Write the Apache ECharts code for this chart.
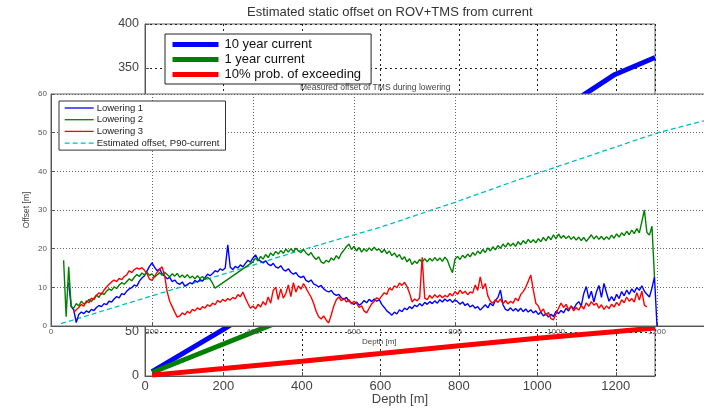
<!DOCTYPE html>
<html><head><meta charset="utf-8">
<script src="https://cdn.jsdelivr.net/npm/echarts@6/dist/echarts.min.js"></script>
<style>html,body{margin:0;padding:0;background:#fff}#c{width:704px;height:408px}</style>
</head><body><div id="c"></div>
<script>
// Background chart: Estimated static offset on ROV+TMS from current
const bgDepth = [18, 200, 400, 600, 800, 1000, 1195, 1300];
const bg10yr  = [5, 53, 110, 168, 226, 285, 342, 362];
const bg1yr   = [4, 36.4, 72, 107.5, 143, 178.6, 213.5, 232];
const bgP10   = [1, 8.5, 16.8, 25.5, 34.5, 43, 50.3, 54.5];
const bgXTicks = [0, 200, 400, 600, 800, 1000, 1200];

// Inset chart: Measured offset of TMS during lowering (depth start, 5 m step)
const stepDepth = 5;
const low1Start = 35;
const low1 = [
 11.2,5.0,4.2,0.9,3.0,3.6,3.2,3.9,3.5,4.3,
 4.0,4.8,5.3,5.0,5.8,5.5,6.4,6.2,7.0,7.6,
 7.3,8.4,8.1,9.0,9.6,9.9,10.6,10.3,11.6,12.4,
 13.0,14.2,15.4,16.3,15.2,14.3,14.8,13.5,12.9,12.2,
 12.6,11.5,11.9,11.1,10.8,11.4,10.3,10.7,11.2,10.9,
 11.8,11.3,12.0,11.6,12.5,13.4,13.0,13.6,14.3,14.0,
 14.8,14.4,15.0,21.0,15.2,14.6,15.4,15.0,15.8,15.3,
 16.2,17.0,16.5,17.6,18.4,17.2,16.8,16.3,16.9,16.0,
 15.6,16.2,15.3,15.0,15.6,14.6,14.2,14.8,13.9,13.4,
 13.8,12.9,12.5,12.9,11.8,11.4,11.9,10.9,10.6,10.1,
 10.5,9.6,9.1,8.8,9.2,8.3,7.9,8.2,7.3,6.9,
 7.4,6.4,6.0,5.6,6.2,5.4,5.8,6.6,6.0,6.9,
 6.3,7.0,6.4,6.8,5.6,4.8,3.9,3.4,2.8,3.6,
 3.1,4.2,3.7,4.6,4.2,5.0,4.5,5.4,5.0,5.8,
 5.2,6.1,5.6,6.3,5.8,6.5,5.9,6.8,6.2,7.0,
 6.4,6.9,6.1,6.8,6.3,5.6,6.2,5.3,5.8,4.9,
 5.4,4.6,5.0,4.1,4.8,5.5,4.7,5.9,5.2,6.6,
 7.4,9.3,5.5,4.3,4.0,4.7,3.9,4.5,3.8,4.6,
 3.7,4.4,3.6,4.2,3.4,3.9,3.0,3.6,2.6,3.2,
 2.3,3.0,2.5,3.8,3.2,4.0,3.4,4.6,3.9,5.2,
 4.4,5.6,6.3,5.2,8.4,10.2,7.1,9.0,6.2,8.8,
 10.5,7.4,11.0,8.6,6.4,7.6,6.5,8.2,7.1,8.9,
 7.8,9.3,8.2,9.6,8.7,10.0,9.2,10.4,9.0,8.2,
 7.5,9.8,12.7,0
];
const low2Start = 25;
const low2 = [
 17.0,2.4,15.3,5.0,4.6,5.8,5.2,6.4,5.7,6.0,
 6.9,6.3,7.2,8.0,7.4,8.6,8.1,9.0,9.6,9.2,
 10.1,9.7,10.6,11.2,10.8,11.5,12.2,11.7,12.6,13.3,
 12.8,13.7,13.2,13.9,13.1,13.5,12.6,13.2,13.8,13.1,
 13.9,13.3,12.7,13.5,12.9,13.6,12.6,13.2,12.5,13.3,
 12.4,12.9,12.2,13.0,12.3,12.8,12.0,12.6,12.1,11.0,
 9.8,null,null,null,null,null,null,null,null,null,
 null,null,null,null,null,16.6,17.6,16.8,18.0,17.3,
 18.5,17.7,18.9,18.2,19.3,18.6,19.5,18.8,19.9,19.1,
 20.0,19.2,20.1,19.4,19.0,19.8,18.9,18.3,19.0,17.9,
 17.2,17.9,16.6,16.2,17.0,16.5,17.6,17.0,18.2,17.4,
 18.8,19.6,20.5,21.2,19.8,20.6,19.4,20.3,19.1,20.0,
 19.3,20.2,19.5,20.4,19.6,19.9,19.0,19.8,18.7,19.4,
 18.2,18.9,17.8,18.5,17.2,17.9,16.6,17.4,15.9,16.8,
 16.2,17.2,16.5,17.4,16.6,17.5,16.8,17.7,16.9,17.6,
 16.7,17.8,17.0,15.2,13.8,17.3,18.0,17.2,18.3,17.6,
 18.6,17.9,19.0,18.3,19.4,18.7,19.8,19.0,20.2,19.4,
 20.5,19.7,20.8,20.1,21.2,20.4,21.5,20.7,21.4,20.6,
 21.8,21.0,22.1,21.3,22.4,21.6,22.3,21.5,22.6,21.8,
 22.9,22.0,23.2,22.3,23.6,22.5,23.8,22.7,23.4,22.6,
 23.3,22.4,23.1,22.2,23.0,22.1,22.9,21.9,22.7,23.6,
 22.5,23.3,22.4,23.2,22.3,23.1,22.4,23.5,22.7,23.8,
 23.0,24.1,23.4,24.5,23.6,24.8,23.9,25.2,24.1,27.0,
 30.0,24.2,23.5,25.8,12.7
];
const low3Start = 45;
const low3 = [
 3.5,4.2,4.8,5.6,5.1,6.5,6.0,7.2,6.8,7.9,
 8.6,8.2,9.3,10.1,10.8,11.4,11.9,11.5,12.3,12.0,
 12.8,13.2,14.3,13.8,14.6,15.0,14.7,15.1,14.4,13.6,
 12.1,11.8,12.8,13.9,14.6,15.3,13.0,8.9,6.4,5.0,
 3.6,2.3,2.6,3.4,2.9,3.8,3.3,4.3,3.9,4.7,
 4.2,5.0,4.6,5.5,5.1,5.9,5.5,6.6,6.1,6.9,
 6.4,7.1,6.7,7.4,7.0,8.1,7.6,8.8,7.2,5.8,
 4.6,5.2,4.4,5.6,4.9,6.3,5.4,7.5,5.9,9.2,
 10.0,6.8,9.6,7.2,8.4,10.6,7.6,11.2,8.8,10.4,
 9.5,11.0,9.8,8.6,7.5,5.9,3.8,2.4,1.8,2.6,
 1.5,0.8,2.9,5.2,6.8,7.5,6.5,7.2,6.2,6.8,
 5.7,6.4,5.9,4.8,5.2,3.9,3.4,4.6,5.7,6.4,
 7.3,6.9,7.8,8.6,8.2,9.8,9.3,10.4,9.9,11.1,
 10.5,11.3,10.2,8.5,6.2,7.0,6.5,7.3,17.8,7.2,
 6.8,7.9,7.2,8.1,7.4,8.0,7.3,7.9,7.5,8.4,
 7.8,8.9,8.2,9.3,8.4,9.0,8.1,8.8,8.5,10.6,
 9.2,12.7,9.6,11.0,7.8,6.4,5.9,6.8,6.1,7.0,
 5.8,6.6,5.7,6.4,5.9,7.2,6.5,8.1,8.9,10.0,
 11.6,13.2,9.4,5.9,5.2,3.6,4.4,2.8,3.5,1.9,
 1.6,3.2,4.6,5.9,4.8,5.6,4.2,5.1,3.9,4.8,
 4.1,5.3,4.4,6.0,5.1,6.3,5.4,5.9,4.6,5.5,
 4.3,5.2,4.5,5.6,4.9,6.1,5.3,6.8,6.0,7.5,
 6.4,7.1,6.2,8.6,6.7,9.0,5.4,4.9
];
const estDepth = [20, 200, 374, 500, 651, 800, 925, 1050, 1202, 1300];
const estVal   = [0.6, 7.8, 14.7, 19.8, 25.5, 32, 37.8, 43.3, 50, 53.3];
const insetXTicks = [0, 200, 400, 600, 800, 1000, 1200];
const insetYTicks = [0, 10, 20, 30, 40, 50, 60];

const pairs = (xs, ys) => xs.map((x, i) => [x, ys[i]]);
const stepped = (start, ys) => ys.map((v, i) => [start + i * stepDepth, v]);

const FF = '"Liberation Sans", Arial, Helvetica, sans-serif';
const chart = echarts.init(document.getElementById('c'), null, {renderer: 'canvas'});

const bgSeries = (name, ys, color) => ({
  name, type: 'line', xAxisIndex: 0, yAxisIndex: 0, symbol: 'none', z: 2,
  data: pairs(bgDepth, ys), lineStyle: {color, width: 5}, itemStyle: {color}
});
const inSeries = (name, data, color, extra) => Object.assign({
  name, type: 'line', xAxisIndex: 1, yAxisIndex: 1, symbol: 'none', z: 7,
  data, connectNulls: true, lineStyle: {color, width: 1.4}, itemStyle: {color}
}, extra || {});

chart.setOption({
  animation: false,
  textStyle: {fontFamily: FF},
  title: [
    {text: 'Estimated static offset on ROV+TMS from current', left: 247, top: 6, padding: 0,
     textStyle: {fontSize: 13, fontWeight: 'normal', color: '#333', fontFamily: FF}},
    {text: 'Measured offset of TMS during lowering', left: 300, top: 83, padding: 0, z: 20,
     textStyle: {fontSize: 8.5, fontWeight: 'normal', color: '#444', fontFamily: FF}}
  ],
  grid: [
    {left: 145, top: 24, width: 510, height: 352, show: true, borderColor: '#666', borderWidth: 1,
     backgroundColor: 'transparent', z: 0, containLabel: false, outerBoundsMode: 'none'},
    {left: 51, top: 94, width: 656.5, height: 232, show: true, borderColor: '#666', borderWidth: 1,
     backgroundColor: '#fff', z: 5, containLabel: false, outerBoundsMode: 'none'}
  ],
  legend: [
    {data: ['10 year current', '1 year current', '10% prob. of exceeding'],
     orient: 'vertical', left: 165, top: 34, padding: [4, 10, 3, 5], itemWidth: 46, itemHeight: 13.5, itemGap: 2,
     lineStyle: {width: 5}, itemStyle: {opacity: 0, borderWidth: 0},
     borderColor: '#222', borderWidth: 1, backgroundColor: '#fff', borderRadius: 0, z: 3,
     textStyle: {fontSize: 13, color: '#111', fontFamily: FF, padding: [0, 0, 0, 1]}},
    {data: ['Lowering 1', 'Lowering 2', 'Lowering 3', 'Estimated offset, P90-current'],
     orient: 'vertical', left: 59, top: 101, padding: [2, 6, 2, 5], itemWidth: 29, itemHeight: 9, itemGap: 1.7,
     lineStyle: {width: 1.3}, itemStyle: {opacity: 0, borderWidth: 0},
     borderColor: '#333', borderWidth: 1, backgroundColor: '#fff', borderRadius: 0, z: 20,
     textStyle: {fontSize: 9.5, color: '#222', fontFamily: FF, padding: [0, 0, 0, -2]}}
  ],
  xAxis: [
    {gridIndex: 0, type: 'value', min: 0, max: 1300, interval: 200, z: 0,
     axisLine: {lineStyle: {color: '#555'}},
     axisTick: {inside: true, length: 4, lineStyle: {color: '#555'}},
     axisLabel: {fontSize: 13, color: '#444', margin: 4, showMaxLabel: false,
                 formatter: v => bgXTicks.includes(v) ? String(v) : ''},
     splitLine: {lineStyle: {type: [2, 3], color: '#222'}},
     name: 'Depth [m]', nameLocation: 'middle', nameGap: 17, nameMoveOverlap: false,
     nameTextStyle: {fontSize: 13, color: '#444', fontFamily: FF}},
    {gridIndex: 1, type: 'value', min: 0, max: 1300, interval: 200, z: 6,
     axisLine: {lineStyle: {color: '#555'}},
     axisTick: {inside: true, length: 3, lineStyle: {color: '#555'}},
     axisLabel: {fontSize: 8, color: '#555', margin: 2, showMaxLabel: false,
                 formatter: v => insetXTicks.includes(v) ? String(v) : ''},
     splitLine: {lineStyle: {type: [1, 2], color: '#666'}},
     name: 'Depth [m]', nameLocation: 'middle', nameGap: 12, nameMoveOverlap: false,
     nameTextStyle: {fontSize: 8, color: '#444', fontFamily: FF}}
  ],
  yAxis: [
    {gridIndex: 0, type: 'value', min: 0, max: 400, interval: 50, z: 0,
     axisLine: {show: true, lineStyle: {color: '#555'}},
     axisTick: {show: true, inside: true, length: 4, lineStyle: {color: '#555'}},
     axisLabel: {fontSize: 12.5, color: '#444', margin: 6},
     splitLine: {lineStyle: {type: [2, 3], color: '#222'}}},
    {gridIndex: 1, type: 'value', min: 0, max: 60, interval: 10, z: 6,
     axisLine: {show: true, lineStyle: {color: '#555'}},
     axisTick: {show: true, inside: true, length: 3, lineStyle: {color: '#555'}},
     axisLabel: {fontSize: 8, color: '#555', margin: 4,
                 formatter: v => insetYTicks.includes(v) ? String(v) : ''},
     splitLine: {lineStyle: {type: [1, 2], color: '#666'}},
     name: 'Offset [m]', nameLocation: 'middle', nameGap: 20, nameRotate: 90, nameMoveOverlap: false,
     nameTextStyle: {fontSize: 8.5, color: '#444', fontFamily: FF}}
  ],
  series: [
    bgSeries('10 year current', bg10yr, '#0000ff'),
    bgSeries('1 year current', bg1yr, '#008000'),
    bgSeries('10% prob. of exceeding', bgP10, '#ff0000'),
    inSeries('Lowering 1', stepped(low1Start, low1), '#0000ff'),
    inSeries('Lowering 2', stepped(low2Start, low2), '#008000'),
    inSeries('Lowering 3', stepped(low3Start, low3), '#ff0000'),
    inSeries('Estimated offset, P90-current', pairs(estDepth, estVal), '#00bfbf',
             {lineStyle: {color: '#00bfbf', width: 1.3, type: [5, 3]}, z: 6.5})
  ]
});
</script></body></html>
